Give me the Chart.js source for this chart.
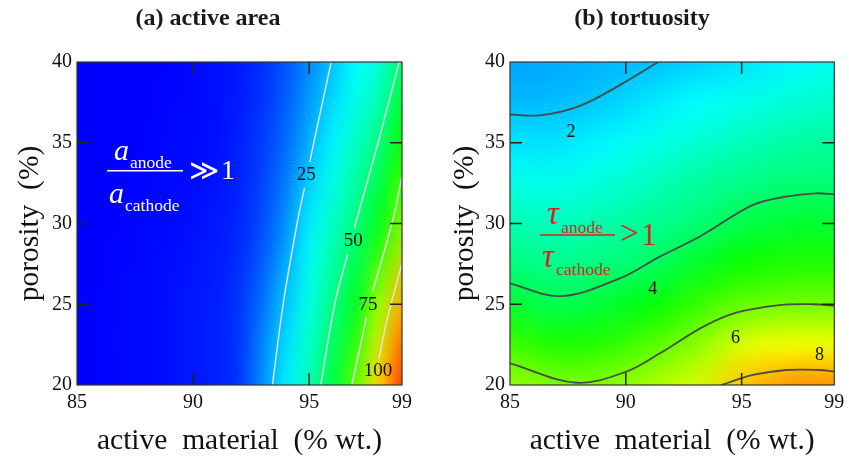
<!DOCTYPE html>
<html><head><meta charset="utf-8">
<script src="https://cdn.jsdelivr.net/npm/chart.js@4"></script>
<style>
html,body{margin:0;padding:0;background:#fff;}
#wrap{position:relative;width:849px;height:457px;overflow:hidden;background:#fff;}
canvas{position:absolute;top:0;}
#c1{left:0;} #c2{left:424px;}
</style></head><body>
<div id="wrap"><canvas id="c1" width="424" height="457"></canvas><canvas id="c2" width="425" height="457"></canvas></div>
<script>
// ---------------- data ----------------
const xTicks = [85, 90, 95, 99];
const yTicks = [20, 25, 30, 35, 40];

// (a) active area ratio, grid read from the colour field
const areaGridX = [85, 86, 87, 88, 89, 90, 91, 92, 93, 94, 95, 96, 97, 98, 99];
const areaGridY = [40, 35, 30, 25, 20];
const areaValues = [
  [0, 0, 0, 0, 0, 1, 2, 3, 6, 11, 18, 25, 33, 38, 52],
  [0, 0, 0, 0, 1, 1, 2, 4, 8, 14, 23, 32, 41, 50, 67],
  [0, 0, 0, 1, 1, 2, 3, 5, 10, 19, 31, 41, 50, 63, 82],
  [0, 0, 1, 1, 2, 3, 4, 7, 15, 26, 37, 49, 62, 86, 110],
  [0, 0, 1, 1, 2, 3, 4, 7, 19, 31, 43, 58, 79, 106, 125]
];
// contour lines of (a): [x, y]; null y = gap for label
const areaC25 = [[95.95, 40], [95.2, 35], [95.03, 33.8], [94.9, null], [94.8, 32.2], [94.48, 30], [93.88, 25], [93.42, 20]];
const areaC50 = [[98.88, 40], [97.97, 35], [97.0, 30], [96.95, 29.7], [96.8, null], [96.66, 28.1], [96.1, 25], [95.5, 20]];
const areaC75 = [[99, 32.9], [98.6, 30.2], [97.74, 25.8], [97.6, null], [97.47, 24.2], [96.84, 20]];
const areaC100 = [[99, 27.55], [98.35, 24], [98.0, 21.6]];
const areaLabels = [['25', 94.87, 33.0], ['50', 96.9, 28.9], ['75', 97.54, 24.95], ['100', 97.97, 20.87]];

// (b) tortuosity ratio
const tortGridX = [85, 87, 89, 91, 93, 95, 97, 99];
const tortGridY = [40, 37.5, 35, 32.5, 30, 27.5, 25, 22.5, 20];
const tortValues = [
  [1.75, 1.8, 1.9, 1.98, 2.15, 2.32, 2.52, 2.7],
  [1.94, 1.95, 2.09, 2.35, 2.57, 2.76, 2.96, 3.09],
  [2.33, 2.32, 2.51, 2.76, 2.99, 3.22, 3.41, 3.49],
  [2.81, 2.76, 2.93, 3.17, 3.47, 3.69, 3.86, 3.89],
  [3.29, 3.2, 3.36, 3.59, 3.85, 4.26, 4.5, 4.52],
  [3.77, 3.65, 3.79, 4.0, 4.54, 5.06, 5.25, 5.25],
  [4.52, 4.2, 4.44, 4.85, 5.41, 5.86, 5.99, 6.03],
  [5.53, 5.18, 5.31, 5.69, 6.22, 6.99, 7.22, 7.18],
  [6.35, 6.1, 6.15, 6.5, 6.9, 7.85, 8.3, 8.35]
];
const tortC2 = [[85, 36.75], [86.3, 36.7], [88, 37.27], [89.74, 38.57], [91.4, 40]];
const tortC4 = [[85, 26.3], [87.16, 25.5], [89.74, 26.6], [91.47, 27.95], [93.2, 29.2], [95.49, 31.15], [96.9, 31.66], [98.2, 31.87], [99, 31.8]];
const tortC6 = [[85, 21.34], [87.87, 20.14], [90.03, 20.83], [91.47, 21.96], [93.33, 23.6], [94.77, 24.48], [96.64, 24.95], [98.07, 25.0], [99, 24.9]];
const tortC8 = [[94.12, 20], [95.49, 20.62], [96.93, 20.93], [98.36, 20.93], [99, 20.83]];
const tortLabels = [['2', 87.63, 35.68], ['4', 91.16, 25.94], ['6', 94.74, 22.89], ['8', 98.36, 21.86]];

// ---------------- styling helpers ----------------
const SERIF = "'Liberation Serif', 'Times New Roman', serif";
const stops = [[0, [0, 0, 255]], [0.25, [0, 255, 255]], [0.5, [0, 255, 0]], [0.75, [255, 255, 0]], [1, [255, 0, 0]]];
function cmap(t) {
  t = Math.max(0, Math.min(1, t));
  for (let i = 1; i < stops.length; i++) {
    if (t <= stops[i][0]) {
      const [t0, c0] = stops[i - 1], [t1, c1] = stops[i];
      const f = (t - t0) / (t1 - t0);
      return c0.map((c, k) => Math.round(c + (c1[k] - c) * f));
    }
  }
  return stops[stops.length - 1][1];
}

function heatmapPlugin(gx, gy, values, vmin, vmax) {
  return {
    id: 'heatmap',
    beforeDatasetsDraw(chart) {
      const nx = gx.length, ny = gy.length;
      const off = document.createElement('canvas');
      off.width = nx; off.height = ny;
      const octx = off.getContext('2d');
      const img = octx.createImageData(nx, ny);
      for (let j = 0; j < ny; j++) for (let i = 0; i < nx; i++) {
        const c = cmap((values[j][i] - vmin) / (vmax - vmin));
        const k = (j * nx + i) * 4;
        img.data[k] = c[0]; img.data[k + 1] = c[1]; img.data[k + 2] = c[2]; img.data[k + 3] = 255;
      }
      octx.putImageData(img, 0, 0);
      const xs = chart.scales.x, ys = chart.scales.y;
      const x0 = xs.getPixelForValue(gx[0]), x1 = xs.getPixelForValue(gx[nx - 1]);
      const y0 = ys.getPixelForValue(gy[0]), y1 = ys.getPixelForValue(gy[ny - 1]);
      const ctx = chart.ctx, a = chart.chartArea;
      ctx.save();
      ctx.beginPath(); ctx.rect(a.left, a.top, a.right - a.left, a.bottom - a.top); ctx.clip();
      ctx.imageSmoothingEnabled = true;
      ctx.imageSmoothingQuality = 'high';
      ctx.drawImage(off, 0.5, 0.5, nx - 1, ny - 1, x0, y0, x1 - x0, y1 - y0);
      ctx.restore();
    }
  };
}

function txt(ctx, s, x, y, font, color, align, base) {
  ctx.font = font; ctx.fillStyle = color;
  ctx.textAlign = align || 'left'; ctx.textBaseline = base || 'alphabetic';
  ctx.fillText(s, x, y);
}

function overlayPlugin(labels, labelSize, annot) {
  return {
    id: 'overlay',
    afterDatasetsDraw(chart) {
      const ctx = chart.ctx, a = chart.chartArea, xs = chart.scales.x, ys = chart.scales.y;
      ctx.save();
      labels.forEach(([s, x, y]) => txt(ctx, s, xs.getPixelForValue(x), ys.getPixelForValue(y), labelSize + 'px ' + SERIF, '#111', 'center', 'middle'));
      ctx.strokeStyle = '#333'; ctx.lineWidth = 1.2;
      ctx.strokeRect(a.left, a.top, a.right - a.left, a.bottom - a.top);
      ctx.strokeStyle = '#222'; ctx.lineWidth = 1.5;
      const TL = 12;
      xTicks.forEach(v => {
        if (v === xs.min || v === xs.max) return;
        const p = xs.getPixelForValue(v);
        ctx.beginPath(); ctx.moveTo(p, a.top); ctx.lineTo(p, a.top + TL);
        ctx.moveTo(p, a.bottom); ctx.lineTo(p, a.bottom - TL); ctx.stroke();
      });
      yTicks.forEach(v => {
        if (v === ys.min || v === ys.max) return;
        const p = ys.getPixelForValue(v);
        ctx.beginPath(); ctx.moveTo(a.left, p); ctx.lineTo(a.left + TL, p);
        ctx.moveTo(a.right, p); ctx.lineTo(a.right - TL, p); ctx.stroke();
      });
      annot(ctx, a.left, a.top);
      ctx.restore();
    }
  };
}

function contourSet(pts, color, w) {
  return {
    data: pts.map(([x, y]) => ({ x, y })),
    borderColor: color, borderWidth: w, pointRadius: 0, tension: 0.35,
    fill: false, spanGaps: false, showLine: true, clip: 0
  };
}

function makeChart(id, title, datasets, plugins, pad, yWidth) {
  return new Chart(document.getElementById(id), {
    type: 'scatter',
    data: { datasets },
    plugins,
    options: {
      responsive: false, animation: false, devicePixelRatio: 1,
      layout: { padding: pad },
      plugins: {
        legend: { display: false }, tooltip: { enabled: false },
        title: {
          display: true, text: title, color: '#1a1a1a',
          font: { family: SERIF, size: 24, weight: 'bold', lineHeight: 1.2 },
          padding: { top: 4, bottom: 29.2 }
        }
      },
      scales: {
        x: {
          type: 'linear', min: 85, max: 99,
          afterBuildTicks: s => { s.ticks = xTicks.map(v => ({ value: v })); },
          afterFit: s => { s.height = 72; s.paddingLeft = 0; s.paddingRight = 0; },
          grid: { display: false, drawTicks: false }, border: { display: false },
          ticks: { color: '#111', font: { family: SERIF, size: 20 }, padding: 6, maxRotation: 0, autoSkip: false },
          title: { display: true, text: 'active  material  (% wt.)', color: '#111', font: { family: SERIF, size: 29.5, lineHeight: 1 }, padding: { top: 0, bottom: 1 } }
        },
        y: {
          type: 'linear', min: 20, max: 40,
          afterBuildTicks: s => { s.ticks = yTicks.map(v => ({ value: v })); },
          afterFit: s => { s.width = yWidth; s.paddingTop = 0; s.paddingBottom = 0; },
          grid: { display: false, drawTicks: false }, border: { display: false },
          ticks: { color: '#111', font: { family: SERIF, size: 20 }, padding: 5 },
          title: { display: true, text: 'porosity  (%)', color: '#111', font: { family: SERIF, size: 29.5, lineHeight: 1 }, padding: { top: 1.2, bottom: 0 } }
        }
      }
    }
  });
}

// ---------------- chart (a) ----------------
const whiteLine = 'rgba(228,228,228,0.95)';
makeChart('c1', '(a) active area',
  [contourSet(areaC25, whiteLine, 1.5), contourSet(areaC50, whiteLine, 1.5), contourSet(areaC75, whiteLine, 1.5), contourSet(areaC100, whiteLine, 1.5)],
  [heatmapPlugin(areaGridX, areaGridY, areaValues, 0, 133),
   overlayPlugin(areaLabels, 19, (ctx, L, T) => {
     const c = '#ffffff';
     txt(ctx, 'a', L + 37, T + 98, 'italic 30px ' + SERIF, c);
     txt(ctx, 'anode', L + 53, T + 106, '17.5px ' + SERIF, c);
     txt(ctx, 'a', L + 32, T + 141, 'italic 30px ' + SERIF, c);
     txt(ctx, 'cathode', L + 48, T + 148.5, '17.5px ' + SERIF, c);
     ctx.strokeStyle = c; ctx.lineWidth = 1.5;
     ctx.beginPath(); ctx.moveTo(L + 30, T + 108.7); ctx.lineTo(L + 106, T + 108.7); ctx.stroke();
     txt(ctx, '\u226B', L + 112, T + 110, '29px ' + SERIF, c, 'left', 'middle');
     txt(ctx, '1', L + 144, T + 116.5, '28px ' + SERIF, c);
   })],
  { left: 14, right: 22, top: 0, bottom: 0 }, 63);

// ---------------- chart (b) ----------------
const darkLine = 'rgba(70,70,70,0.95)';
makeChart('c2', '(b) tortuosity',
  [contourSet(tortC2, darkLine, 1.8), contourSet(tortC4, darkLine, 1.8), contourSet(tortC6, darkLine, 1.8), contourSet(tortC8, darkLine, 1.8)],
  [heatmapPlugin(tortGridX, tortGridY, tortValues, 0.2, 9.7),
   overlayPlugin(tortLabels, 18, (ctx, L, T) => {
     const c = 'rgb(226,30,30)';
     txt(ctx, '\u03C4', L + 37, T + 162, 'italic 33px ' + SERIF, c);
     txt(ctx, 'anode', L + 51, T + 171, '17.5px ' + SERIF, c);
     txt(ctx, '\u03C4', L + 32, T + 205, 'italic 33px ' + SERIF, c);
     txt(ctx, 'cathode', L + 46, T + 213, '17.5px ' + SERIF, c);
     ctx.strokeStyle = c; ctx.lineWidth = 1.5;
     ctx.beginPath(); ctx.moveTo(L + 30, T + 173); ctx.lineTo(L + 105, T + 173); ctx.stroke();
     txt(ctx, '>', L + 110, T + 173.5, '33px ' + SERIF, c, 'left', 'middle');
     txt(ctx, '1', L + 131, T + 182.5, '31px ' + SERIF, c);
   })],
  { left: 25.7, right: 14.7, top: 0, bottom: 0 }, 60.3);
</script>
</body></html>
